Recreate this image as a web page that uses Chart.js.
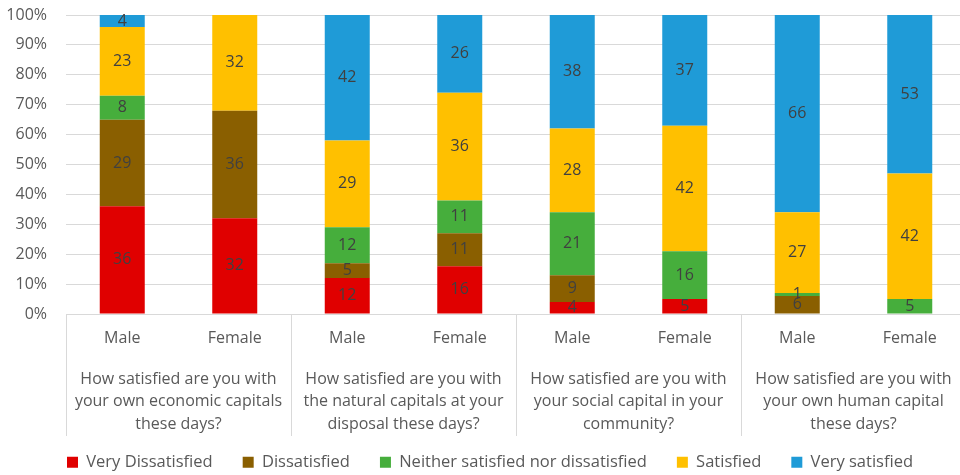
<!DOCTYPE html>
<html>
<head>
<meta charset="utf-8">
<script src="https://cdn.jsdelivr.net/npm/chart.js@4.4.1/dist/chart.umd.min.js"></script>
<style>
  html, body { margin: 0; padding: 0; background: #fff; overflow: hidden; }
  #wrap { width: 966px; height: 475px; position: relative; }
</style>
</head>
<body>
<div id="wrap"><canvas id="chart"></canvas></div>
<script>
const genders = ["Male", "Female", "Male", "Female", "Male", "Female", "Male", "Female"];
const questions = [
  ["How satisfied are you with", "your own economic capitals", "these days?"],
  ["How satisfied are you with", "the natural capitals at your", "disposal these days?"],
  ["How satisfied are you with", "your social capital in your", "community?"],
  ["How satisfied are you with", "your own human capital", "these days?"]
];
const veryDissatisfied = [36, 32, 12, 16, 4, 5, 0, 0];
const dissatisfied = [29, 36, 5, 11, 9, 0, 6, 0];
const neither = [8, 0, 12, 11, 21, 16, 1, 5];
const satisfied = [23, 32, 29, 36, 28, 42, 27, 42];
const verySatisfied = [4, 0, 42, 26, 38, 37, 66, 53];

const FONT = "'Open Sans', sans-serif";
const GRID = "#d9d9d9";
const TEXT = "#595959";

// value labels in the middle of each segment
const segmentLabels = {
  id: "segmentLabels",
  afterDatasetsDraw(chart) {
    const ctx = chart.ctx;
    ctx.save();
    ctx.font = "16px " + FONT;
    ctx.fillStyle = "#404040";
    ctx.textAlign = "center";
    ctx.textBaseline = "middle";
    chart.data.datasets.forEach((ds, di) => {
      chart.getDatasetMeta(di).data.forEach((bar, i) => {
        const v = ds.data[i];
        if (!v) return;
        const p = bar.getProps(["x", "y", "base"], true);
        ctx.fillText(v, p.x, (p.y + p.base) / 2);
      });
    });
    ctx.restore();
  }
};

// vertical separators between the question groups
const groupLines = {
  id: "groupLines",
  afterDraw(chart) {
    const x = chart.scales.x, x2 = chart.scales.x2, ctx = chart.ctx;
    ctx.save();
    ctx.strokeStyle = GRID;
    ctx.lineWidth = 1;
    for (let i = 0; i <= genders.length; i += 2) {
      const px = Math.round(x.getPixelForValue(i - 0.5)) + 0.5;
      ctx.beginPath();
      ctx.moveTo(px, chart.chartArea.bottom);
      ctx.lineTo(px, x2.bottom);
      ctx.stroke();
    }
    ctx.restore();
  }
};

// keep the legend row compact while leaving wide gaps between items
const legendBox = {
  id: "legendBox",
  beforeLayout(chart) {
    const lg = chart.legend;
    if (!lg || lg._fixed) return;
    const fit = lg.fit.bind(lg);
    lg.fit = function () { fit(); this.height = 39; };
    lg._fixed = true;
  },
  afterLayout(chart) {
    const lg = chart.legend;
    lg.top -= 12;
    lg.left += 7; lg.right += 7;
  }
};

const noSidePad = (s) => { s.paddingLeft = 0; s.paddingRight = 0; };

const makeSet = (label, data, color) => ({
  label, data, backgroundColor: color, borderWidth: 0,
  barPercentage: 0.4, categoryPercentage: 1
});

new Chart(document.getElementById("chart"), {
  type: "bar",
  data: {
    labels: genders,
    datasets: [
      makeSet("Very Dissatisfied", veryDissatisfied, "#e00000"),
      makeSet("Dissatisfied", dissatisfied, "#8a5f00"),
      makeSet("Neither satisfied nor dissatisfied", neither, "#46ae3c"),
      makeSet("Satisfied", satisfied, "#ffc000"),
      makeSet("Very satisfied", verySatisfied, "#1f9bd7")
    ]
  },
  options: {
    responsive: true,
    maintainAspectRatio: false,
    animation: false,
    layout: { padding: { top: 15, right: 0, bottom: 0, left: 0 } },
    plugins: {
      legend: {
        position: "bottom",
        labels: {
          boxWidth: 11, boxHeight: 11, padding: 30,
          color: TEXT, font: { family: FONT, size: 16.5 }
        }
      },
      tooltip: { enabled: false }
    },
    scales: {
      x: {
        stacked: true,
        grid: { display: false, drawTicks: false },
        border: { display: false },
        afterFit: (s) => { noSidePad(s); s.height = 33; },
        ticks: { color: TEXT, font: { family: FONT, size: 16 }, padding: 15, autoSkip: false, maxRotation: 0 }
      },
      x2: {
        type: "category",
        position: "bottom",
        labels: questions,
        offset: true,
        grid: { display: false, drawTicks: false },
        border: { display: false },
        afterFit: (s) => { noSidePad(s); s.height = 89; },
        ticks: { color: TEXT, font: { family: FONT, size: 16, lineHeight: 1.4 }, padding: 21, autoSkip: false, maxRotation: 0 }
      },
      y: {
        stacked: true,
        min: 0, max: 100,
        border: { display: false },
        grid: { color: GRID, drawTicks: false },
        afterFit: (s) => { s.width = 66; s.paddingTop = 0; s.paddingBottom = 0; },
        ticks: {
          stepSize: 10, padding: 19, color: TEXT,
          font: { family: FONT, size: 16 },
          callback: (v) => v + "%"
        }
      }
    }
  },
  plugins: [segmentLabels, groupLines, legendBox]
});
</script>
</body>
</html>
